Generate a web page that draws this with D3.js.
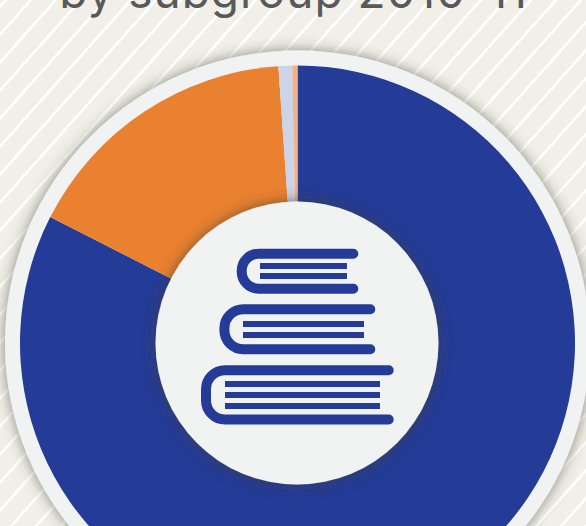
<!DOCTYPE html>
<html><head><meta charset="utf-8">
<script src="https://cdnjs.cloudflare.com/ajax/libs/d3/7.8.5/d3.min.js"></script>
<style>html,body{margin:0;padding:0;background:#f1efe7;overflow:hidden}svg{display:block}</style>
</head><body><div id="c"></div>
<script>
const categories = ["Subgroup A", "Subgroup B", "Subgroup C", "Subgroup D"];
const seriesValues = [82.5, 16.4, 0.8, 0.3];
const colors = ["#243b97", "#ea8130", "#ced4e8", "#f4b183"];
const titleText = "by subgroup 2010-11";
const books = [
  {left: 241.7, right: 353.3, top: 253.7, bottom: 288.7, lineL: 260, lineR: 347, lines: [266, 276]},
  {left: 224.4, right: 370.3, top: 309.2, bottom: 349.3, lineL: 243, lineR: 364, lines: [324, 335]},
  {left: 206, right: 388.7, top: 370.2, bottom: 419.5, lineL: 225, lineR: 380, lines: [384, 395, 406]}
];
const W = 586, H = 526, cx = 297.5, cy = 343;
const svg = d3.select("#c").append("svg").attr("width", W).attr("height", H);
const defs = svg.append("defs");
const pw = 25, ph = 28;
const pat = defs.append("pattern").attr("id", "stripes").attr("patternUnits", "userSpaceOnUse")
  .attr("width", pw).attr("height", ph).attr("x", 13).attr("y", 20);
pat.append("rect").attr("width", pw).attr("height", ph).attr("fill", "#f1efe7");
[[pw, 0, 0, ph], [0, 0, -pw, ph], [2 * pw, 0, pw, ph]].forEach(l => {
  pat.append("line").attr("x1", l[0]).attr("y1", l[1]).attr("x2", l[2]).attr("y2", l[3])
    .attr("stroke", "#fff").attr("stroke-width", 2.6);
});
[["ringShadow", 7, 0.6], ["holeShadow", 7, 0.7]].forEach(f => {
  defs.append("filter").attr("id", f[0]).attr("x", "-15%").attr("y", "-15%").attr("width", "130%").attr("height", "130%")
    .append("feDropShadow").attr("dx", 0).attr("dy", 0).attr("stdDeviation", f[1])
    .attr("flood-color", "#3f3f36").attr("flood-opacity", f[2]);
});
svg.append("rect").attr("width", W).attr("height", H).attr("fill", "url(#stripes)");
svg.append("text").attr("x", 293.5).attr("y", 7.5).attr("text-anchor", "middle")
  .attr("font-family", "Inter").attr("font-weight", 400).attr("font-size", 46).attr("letter-spacing", 1).attr("fill", "#58595b").text(titleText);
svg.append("circle").attr("cx", cx).attr("cy", cy).attr("r", 292.5).attr("fill", "#f1f3f3").attr("filter", "url(#ringShadow)");
const pie = d3.pie().sort(null).value(d => d);
const arc = d3.arc().innerRadius(0).outerRadius(277.5);
const g = svg.append("g").attr("transform", `translate(${cx},${cy})`);
g.selectAll("path").data(pie(seriesValues)).join("path")
  .attr("d", arc).attr("fill", (d, i) => colors[i]);
svg.append("circle").attr("cx", cx - 0.5).attr("cy", cy).attr("r", 141.5).attr("fill", "#f1f3f3").attr("filter", "url(#holeShadow)");
const ig = svg.append("g");
books.forEach(b => {
  const r = (b.bottom - b.top) / 2 > 20 ? 19 : (b.bottom - b.top) / 2 - 0.5;
  const p = d3.path();
  p.moveTo(b.right, b.top);
  p.lineTo(b.left + r, b.top);
  p.arcTo(b.left, b.top, b.left, b.top + r, r);
  p.lineTo(b.left, b.bottom - r);
  p.arcTo(b.left, b.bottom, b.left + r, b.bottom, r);
  p.lineTo(b.right, b.bottom);
  ig.append("path").attr("d", p.toString()).attr("fill", "none").attr("stroke", colors[0])
    .attr("stroke-width", 10).attr("stroke-linecap", "round");
  b.lines.forEach(y => ig.append("rect").attr("x", b.lineL).attr("y", y - 3)
    .attr("width", b.lineR - b.lineL).attr("height", 6).attr("fill", colors[0]));
});
</script></body></html>
